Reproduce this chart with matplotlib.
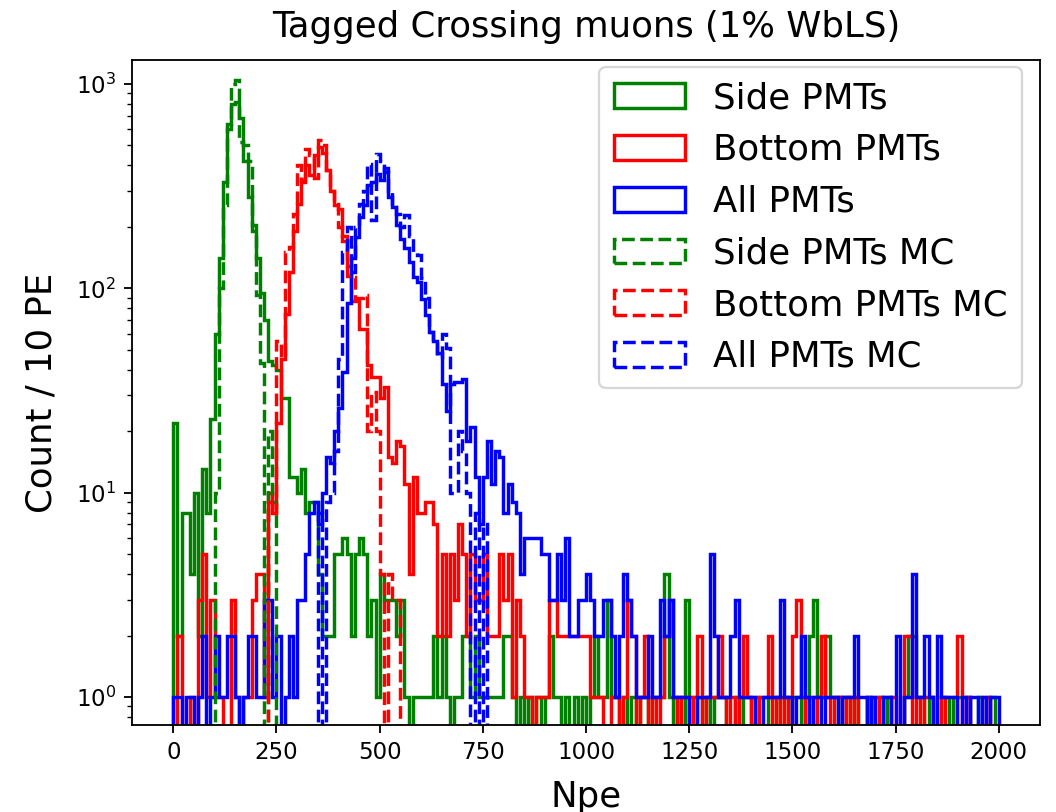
import numpy as np
import matplotlib
matplotlib.use("Agg")
import matplotlib.pyplot as plt

# Bin edges: 10 PE bins from 0 to 2000
bin_edges = np.arange(0, 2001, 10)
bin_centers = 0.5 * (bin_edges[:-1] + bin_edges[1:])

side = [
    22, 2, 8, 8, 4, 10, 2, 13, 8, 23, 60, 140, 330, 600, 800, 820, 680, 420, 280, 205,
    140, 95, 70, 44, 42, 40, 29, 29, 12, 12, 10, 13, 8, 9, 9, 4, 2, 2, 2, 5,
    5, 6, 5, 2, 5, 6, 5, 2, 3, 1, 4, 3, 3, 3, 2, 3, 1, 0, 1, 1,
    1, 1, 1, 2, 1, 2, 1, 0, 1, 1, 2, 2, 1, 2, 1, 1, 1, 1, 1, 1,
    2, 2, 1, 0, 1, 0, 1, 0, 1, 0, 1, 2, 1, 1, 0, 1, 0, 1, 0, 1,
    0, 1, 2, 1, 1, 3, 1, 1, 0, 1, 0, 1, 0, 1, 1, 0, 1, 1, 1, 4,
    1, 0, 1, 0, 3, 1, 0, 1, 0, 1, 0, 1, 1, 1, 0, 0, 1, 0, 1, 1,
    0, 1, 0, 0, 1, 1, 0, 1, 1, 0, 1, 1, 0, 1, 2, 3, 1, 1, 2, 1,
    1, 0, 1, 1, 0, 1, 0, 0, 1, 0, 1, 1, 0, 1, 0, 0, 0, 1, 2, 2,
    1, 1, 0, 1, 0, 0, 1, 1, 0, 1, 1, 1, 1, 0, 0, 1, 0, 0, 1, 0,
]

bottom = [
    0, 2, 0, 0, 1, 0, 3, 5, 1, 3, 1, 1, 0, 0, 3, 1, 0, 1, 1, 3,
    4, 4, 1, 10, 8, 22, 45, 75, 120, 190, 260, 330, 400, 360, 450, 490, 460, 380, 300, 255,
    245, 180, 128, 87, 87, 63, 63, 42, 37, 37, 29, 33, 15, 14, 18, 17, 11, 4, 12, 8,
    8, 9, 9, 7, 2, 5, 2, 5, 3, 7, 5, 2, 5, 3, 3, 5, 2, 2, 2, 5,
    3, 5, 1, 3, 2, 1, 1, 0, 1, 1, 1, 3, 3, 2, 2, 2, 2, 2, 2, 2,
    2, 1, 1, 1, 0, 0, 1, 1, 0, 1, 3, 2, 0, 1, 2, 0, 1, 0, 1, 2,
    3, 1, 0, 1, 1, 0, 1, 2, 0, 1, 1, 1, 2, 1, 0, 1, 0, 1, 2, 1,
    0, 0, 1, 1, 2, 0, 1, 0, 1, 0, 2, 3, 1, 0, 1, 0, 1, 2, 1, 0,
    1, 1, 0, 1, 0, 1, 0, 0, 1, 0, 0, 1, 0, 0, 1, 0, 0, 2, 2, 0,
    1, 0, 1, 1, 0, 0, 1, 0, 0, 0, 2, 0, 1, 0, 0, 0, 0, 1, 0, 0,
]

all_pmts = [
    1, 1, 0, 1, 1, 0, 1, 2, 0, 1, 2, 1, 1, 2, 2, 1, 0, 1, 2, 2,
    1, 1, 3, 3, 1, 2, 0, 1, 2, 1, 3, 3, 5, 8, 9, 7, 10, 15, 14, 20,
    26, 39, 85, 140, 179, 224, 257, 322, 330, 361, 340, 386, 281, 251, 205, 175, 157, 134, 114, 107,
    89, 74, 61, 55, 48, 34, 25, 34, 35, 35, 36, 18, 21, 12, 7, 12, 18, 11, 16, 15,
    8, 11, 9, 8, 4, 6, 6, 6, 6, 5, 5, 3, 3, 5, 3, 6, 2, 2, 3, 3,
    4, 3, 2, 2, 3, 3, 2, 1, 2, 4, 3, 2, 1, 1, 1, 2, 1, 1, 3, 2,
    3, 1, 1, 1, 1, 0, 0, 1, 1, 1, 5, 2, 1, 1, 1, 2, 3, 1, 1, 1,
    1, 0, 0, 1, 1, 1, 1, 3, 1, 1, 0, 1, 2, 1, 0, 1, 1, 0, 1, 1,
    1, 0, 1, 1, 1, 2, 1, 1, 0, 1, 0, 0, 1, 1, 0, 2, 0, 1, 1, 4,
    1, 1, 2, 1, 0, 2, 1, 1, 1, 1, 0, 1, 0, 1, 1, 0, 1, 0, 1, 1,
]

side_mc_bins = [10, 11, 12, 13, 14, 15, 16, 17, 18, 19, 20, 21, 22, 23, 24]
side_mc_counts = [10, 100, 255, 634, 1000, 1050, 520, 500, 420, 190, 93, 43, 0, 20, 9]

bottom_mc_bins = list(range(23, 55))
bottom_mc_counts = [9, 8, 55, 46, 150, 160, 230, 400, 340, 480, 450, 345, 530, 500, 380, 300,
                    260, 200, 170, 115, 114, 90, 90, 93, 20, 31, 20, 4, 0, 4, 3, 3]

all_mc_bins = list(range(35, 77))
all_mc_counts = [8, 0, 9, 10, 16, 45, 150, 200, 120, 200, 260, 300, 404, 215, 452, 420,
                 370, 300, 250, 230, 200, 229, 180, 150, 146, 112, 90, 61, 55, 46, 60, 51,
                 10, 10, 20, 16, 10, 0, 8, 0, 7, 0]

labels = ["Side PMTs", "Bottom PMTs", "All PMTs", "Side PMTs MC", "Bottom PMTs MC", "All PMTs MC"]
colors = ["green", "red", "blue"]


def full(bins, counts):
    arr = np.zeros(len(bin_centers))
    arr[np.array(bins)] = counts
    return arr


series = [
    np.array(side, float), np.array(bottom, float), np.array(all_pmts, float),
    full(side_mc_bins, side_mc_counts), full(bottom_mc_bins, bottom_mc_counts),
    full(all_mc_bins, all_mc_counts),
]

fig = plt.figure(figsize=(1056 / 165, 812 / 165), dpi=165)
ax = fig.add_axes([132 / 1056, 1 - 725 / 812, (1040 - 132) / 1056, (725 - 60) / 812])

for i, (w, lab) in enumerate(zip(series, labels)):
    ax.hist(bin_centers, bins=bin_edges, weights=w, histtype="step",
            color=colors[i % 3], linestyle="-" if i < 3 else "--",
            linewidth=1.5, log=True, label=lab)

ax.set_yscale("log")
ax.set_xlim(-100, 2100)
ax.set_ylim(0.73, 1310)
ax.set_xticks([0, 250, 500, 750, 1000, 1250, 1500, 1750, 2000])
ax.tick_params(axis="both", which="major", labelsize=10)
ax.set_xlabel("Npe", fontsize=15.5, labelpad=7)
ax.set_ylabel("Count / 10 PE", fontsize=15.5, labelpad=7.5)
ax.set_title("Tagged Crossing muons (1% WbLS)", fontsize=15.5, pad=10)
ax.legend(loc="upper right", fontsize=15.5, bbox_to_anchor=(0.980, 0.9895),
          borderaxespad=0.0)

fig.savefig("out.png", dpi=165)
